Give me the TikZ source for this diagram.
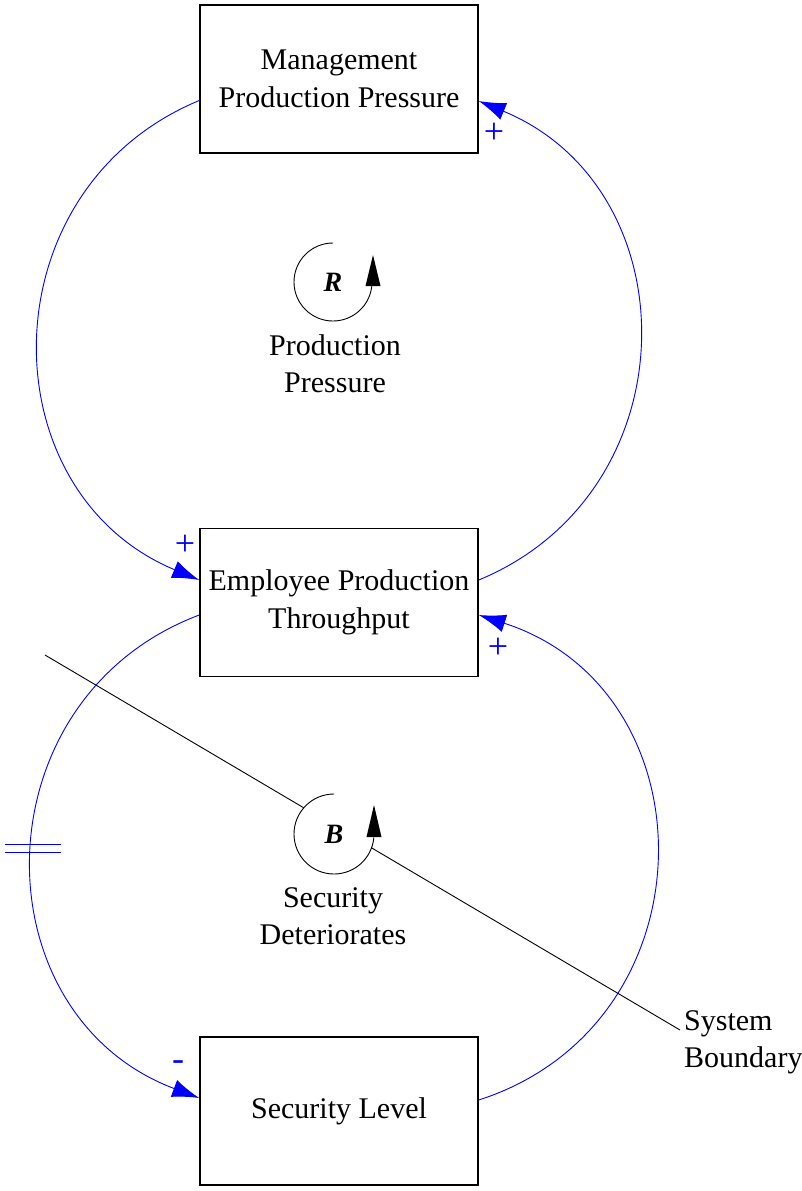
\documentclass[tikz,border=0pt]{standalone}
\usepackage{fontspec}
\setmainfont{Liberation Serif}
\usetikzlibrary{arrows.meta,calc}
\begin{document}
\begin{tikzpicture}[x=1pt,y=-1pt,
  box/.style={draw,line width=1.5pt,minimum width=278pt,minimum height=148pt,align=center,inner sep=0pt,font=\fontsize{30}{37.5}\selectfont},
  link/.style={draw=blue,line width=0.9pt,-{Latex[length=27pt,width=18pt]}},
  sign/.style={text=blue,inner sep=0pt,font=\fontsize{36}{36}\selectfont},
  lbl/.style={align=center,inner sep=0pt,font=\fontsize{30}{37}\selectfont},
  lbll/.style={align=left,inner sep=0pt,font=\fontsize{30}{37}\selectfont},
  loopletter/.style={inner sep=0pt,font=\fontsize{28}{28}\selectfont\bfseries\itshape},
  looparc/.style={draw,line width=0.9pt},
  delaymark/.style={draw=blue,line width=1.6pt},
  boundary/.style={draw,line width=0.9pt}]
\useasboundingbox (0,0) rectangle (802,1191);

% boxes
\node[box] (mpp) at (339,79) {Management\\Production Pressure};
\node[box] (ept) at (339,602.5) {Employee Production\\Throughput};
\node[box] (sl)  at (339,1111) {Security Level};

% links (circular arcs as Bezier curves)
\draw[link] ($(mpp.west)+(0,21.5)$) .. controls (-13.7,188.8) and (-13.7,491.2) .. ($(ept.west)+(0,-22.5)$);
\draw[link] ($(ept.east)+(0,-22.5)$) .. controls (691.7,491.9) and (691.7,189.1) .. ($(mpp.east)+(0,22)$);
\draw[link] ($(ept.west)+(0,12.5)$) .. controls (-22.9,698.8) and (-22.9,1014.2) .. coordinate[pos=0.4866] (dm) ($(sl.west)+(0,-13)$);
\draw[link] ($(sl.east)+(0,-11)$) .. controls (714,1024.2) and (714,690.8) .. ($(ept.east)+(0,12.5)$);

% delay mark
\draw[delaymark] ($(dm)+(-28,-4)$) -- ($(dm)+(28,-4)$);
\draw[delaymark] ($(dm)+(-28,4)$) -- ($(dm)+(28,4)$);

% signs
\node[sign] (s1) at (494,133) {+};
\node[sign] (s2) at (185,545) {+};
\node[sign] (s3) at (498,648) {+};
\node[sign] (s4) at (178,1066) {-};

% system boundary
\coordinate (sb1) at (45,655);
\coordinate (sb2) at (680,1030);
\coordinate (cR) at (333,282);
\coordinate (cB) at (334,834);
\draw[boundary] (sb1) -- (sb2);
\fill[white] (cB) circle[radius=40pt];

% loop R
\draw[looparc] ($(cR)+(0,-39)$) arc[start angle=90,end angle=355,radius=39pt];
\fill ($(cR)+(40,-27)$) -- ($(cR)+(47.5,4)$) -- ($(cR)+(32.5,4)$) -- cycle;
\node[loopletter] (R) at (cR) {R};
\node[lbl] (lR) at (335,364) {Production\\Pressure};

% loop B
\draw[looparc] ($(cB)+(0,-40)$) arc[start angle=90,end angle=355,radius=40pt];
\fill ($(cB)+(40,-29)$) -- ($(cB)+(47.5,3)$) -- ($(cB)+(32.5,3)$) -- cycle;
\node[loopletter] (B) at (cB) {B};
\node[lbl] (lB) at (333,916) {Security\\Deteriorates};

% boundary label
\node[lbll,anchor=west] (sbl) at (684,1042) {System\\Boundary};
\end{tikzpicture}
\end{document}
